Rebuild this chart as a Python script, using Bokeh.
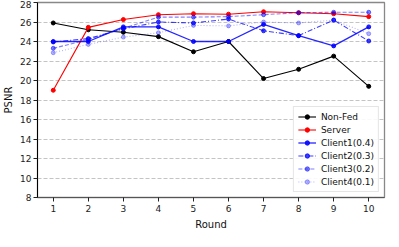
from bokeh.plotting import figure
from bokeh.models import Legend, LegendItem, Range1d, FixedTicker
from bokeh.embed import file_html
from bokeh.resources import INLINE

rounds = [1, 2, 3, 4, 5, 6, 7, 8, 9, 10]
nonfed = [25.9, 25.2, 24.95, 24.5, 22.95, 24.0, 20.2, 21.15, 22.5, 19.4]
server = [19.0, 25.45, 26.25, 26.75, 26.85, 26.8, 27.05, 26.95, 26.85, 26.55]
client1 = [24.0, 24.0, 25.5, 25.5, 24.0, 24.0, 25.75, 24.6, 23.55, 25.5]
client2 = [23.95, 24.3, 25.3, 26.0, 25.9, 26.3, 25.1, 24.6, 26.2, 24.05]
client3 = [23.3, 24.2, 25.35, 26.5, 26.5, 26.55, 26.75, 26.95, 27.0, 27.0]
client4 = [22.85, 23.7, 24.45, 24.9, 25.65, 25.6, 26.0, 25.9, 26.2, 24.8]
yticks = [8, 10, 12, 14, 16, 18, 20, 22, 24, 26, 28]

FONT = "DejaVu Sans"

p = figure(width=390, height=232, output_backend="svg", toolbar_location=None,
           x_range=Range1d(0.55, 10.45), y_range=Range1d(8, 28),
           min_border_left=31, min_border_right=6, min_border_top=2, min_border_bottom=29)
p.background_fill_color = "white"
p.border_fill_color = "white"
p.outline_line_color = "#888888"
p.outline_line_width = 1.3

p.xgrid.visible = False
p.ygrid.grid_line_color = "#c4c4c4"
p.ygrid.grid_line_dash = "4 2"
p.ygrid.grid_line_width = 1

p.xaxis.ticker = FixedTicker(ticks=rounds)
p.yaxis.ticker = FixedTicker(ticks=yticks)
for ax in (p.xaxis, p.yaxis):
    ax.major_label_text_font = FONT
    ax.major_label_text_font_size = "9px"
    ax.major_label_text_color = "#222222"
    ax.axis_label_text_font = FONT
    ax.axis_label_text_font_size = "10px"
    ax.axis_label_text_font_style = "normal"
    ax.axis_label_text_color = "#111111"
    ax.major_tick_out = 4
    ax.major_tick_in = 0
    ax.minor_tick_out = 0
    ax.minor_tick_in = 0
    ax.major_tick_line_color = "#222222"
p.yaxis.axis_line_color = "black"
p.xaxis.axis_line_color = "#555555"
p.yaxis.major_label_standoff = 2
p.xaxis.major_label_standoff = 3
p.yaxis.axis_label = "PSNR"
p.xaxis.axis_label = "Round"
p.yaxis.axis_label_standoff = 3
p.xaxis.axis_label_standoff = 4

series = [
    ("Non-Fed", nonfed, "black", 1.0, "solid", 1.1),
    ("Server", server, "red", 1.0, "solid", 1.1),
    ("Client1(0.4)", client1, "blue", 0.85, "solid", 1.3),
    ("Client2(0.3)", client2, "blue", 0.75, "5 2 1 2", 1.1),
    ("Client3(0.2)", client3, "blue", 0.5, "4 2", 1.1),
    ("Client4(0.1)", client4, "blue", 0.3, "1 2", 1.1),
]

items = []
for name, ys, col, alpha, dash, lw in series:
    l = p.line(rounds, ys, line_color=col, line_alpha=alpha, line_dash=dash, line_width=lw)
    c = p.scatter(rounds, ys, size=4, fill_color=col, line_color=col,
                  fill_alpha=alpha, line_alpha=alpha)
    items.append(LegendItem(label=name, renderers=[l, c]))

legend = Legend(items=items, location="bottom_right")
legend.label_text_font = FONT
legend.label_text_font_size = "9px"
legend.label_text_color = "#111111"
legend.label_height = 11
legend.glyph_height = 11
legend.glyph_width = 18
legend.label_standoff = 5
legend.spacing = 2
legend.padding = 4
legend.margin = 5
legend.border_line_color = "#cccccc"
legend.border_line_width = 1
legend.background_fill_alpha = 0.9
p.add_layout(legend)

open("out.html", "w").write(file_html(p, INLINE))
